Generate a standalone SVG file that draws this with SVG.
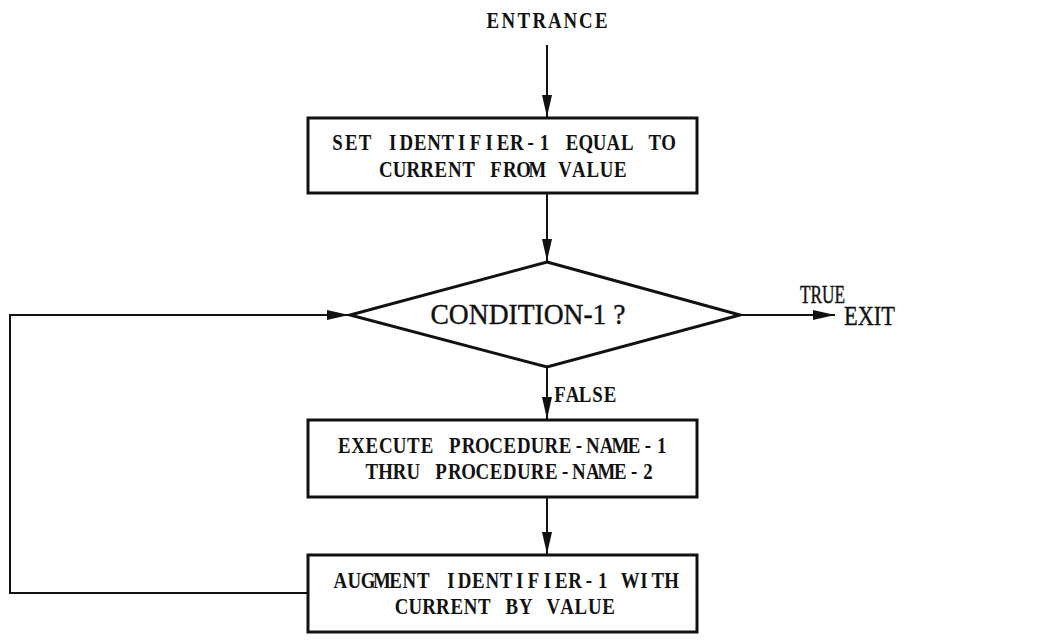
<svg xmlns="http://www.w3.org/2000/svg" width="1045" height="644" viewBox="0 0 1045 644">
<style>
.box{fill:#fff;stroke:#111;stroke-width:3}
.ln{fill:none;stroke:#111;stroke-width:2}
.t{font-family:"Liberation Serif","Times New Roman",serif;font-weight:bold;font-size:23px;fill:#111;text-anchor:middle}
.c{font-family:"Liberation Serif","Times New Roman",serif;fill:#111;stroke:#111;stroke-width:0.4}
</style>
<defs>
<marker id="ahl" viewBox="0 0 10 10" refX="10" refY="5" markerWidth="22" markerHeight="10" markerUnits="userSpaceOnUse" orient="auto" preserveAspectRatio="none">
<path d="M0,0 L10,5 L0,10 z" fill="#111"/>
</marker>
</defs>
<rect width="1045" height="644" fill="#fff"/>
<g id="connectors">
<line class="ln" x1="547" y1="45" x2="547" y2="117" marker-end="url(#ahl)"/>
<line class="ln" x1="547" y1="194" x2="547" y2="261" marker-end="url(#ahl)"/>
<line class="ln" x1="547" y1="368" x2="547" y2="419" marker-end="url(#ahl)"/>
<line class="ln" x1="547" y1="498" x2="547" y2="554" marker-end="url(#ahl)"/>
<line class="ln" x1="740" y1="315" x2="835" y2="315" marker-end="url(#ahl)"/>
<polyline class="ln" points="308,593 10,593 10,315 349,315" marker-end="url(#ahl)"/>
</g>
<g id="entrance"><g transform="scale(0.82,1)"><text class="t" y="28" x="600.98 619.88 638.78 657.68 676.59 695.49 714.39 733.29">ENTRANCE</text></g></g>
<g id="set">
<rect class="box" x="308" y="118" width="389" height="75"/>
<g transform="scale(0.82,1)">
<text class="t" y="150" x="411.46 428.29 445.12 461.95 478.78 495.61 512.44 529.27 546.10 562.93 579.76 596.59 613.41 630.24 647.07 663.90 680.73 697.56 714.39 731.22 748.05 764.88 781.71 798.54 815.37">SET IDENTIFIER-1 EQUAL TO</text>
<text class="t" y="177" x="470.37 487.20 504.03 520.86 537.69 554.51 571.34 588.17 605.00 621.83 638.66 655.49 672.32 689.15 705.98 722.81 739.64 756.47">CURRENT FROM VALUE</text>
</g>
</g>
<g id="condition">
<polygon class="box" points="547,262 740,315 547,367 350,315"/>
<text class="c" x="528" y="324" font-size="30" text-anchor="middle" textLength="195" lengthAdjust="spacingAndGlyphs">CONDITION-1 ?</text>
</g>
<g id="labels">
<text class="c" x="800" y="303" font-size="25" textLength="45" lengthAdjust="spacingAndGlyphs">TRUE</text>
<text class="c" x="844" y="325" font-size="28" textLength="51" lengthAdjust="spacingAndGlyphs">EXIT</text>
<g transform="scale(0.82,1)"><text class="t" y="402" x="682.93 698.17 713.41 728.66 743.90">FALSE</text></g>
</g>
<g id="execute">
<rect class="box" x="308" y="420" width="389" height="77"/>
<g transform="scale(0.82,1)">
<text class="t" y="453" x="419.88 436.71 453.54 470.37 487.20 504.03 520.86 537.69 554.51 571.34 588.17 605.00 621.83 638.66 655.49 672.32 689.15 705.98 722.81 739.64 756.47 773.29 790.12 806.95">EXECUTE PROCEDURE-NAME-1</text>
<text class="t" y="479" x="453.54 470.37 487.20 504.03 520.86 537.69 554.51 571.34 588.17 605.00 621.83 638.66 655.49 672.32 689.15 705.98 722.81 739.64 756.47 773.29 790.12">THRU PROCEDURE-NAME-2</text>
</g>
</g>
<g id="augment">
<rect class="box" x="308" y="555" width="389" height="77"/>
<g transform="scale(0.82,1)">
<text class="t" y="588" x="415.12 431.95 448.78 465.61 482.44 499.27 516.10 532.93 549.76 566.59 583.41 600.24 617.07 633.90 650.73 667.56 684.39 701.22 718.05 734.88 751.71 768.54 785.37 802.20 819.02">AUGMENT IDENTIFIER-1 WITH</text>
<text class="t" y="614" x="489.63 506.46 523.29 540.12 556.95 573.78 590.61 607.44 624.27 641.10 657.93 674.76 691.59 708.41 725.24 742.07">CURRENT BY VALUE</text>
</g>
</g>
</svg>
